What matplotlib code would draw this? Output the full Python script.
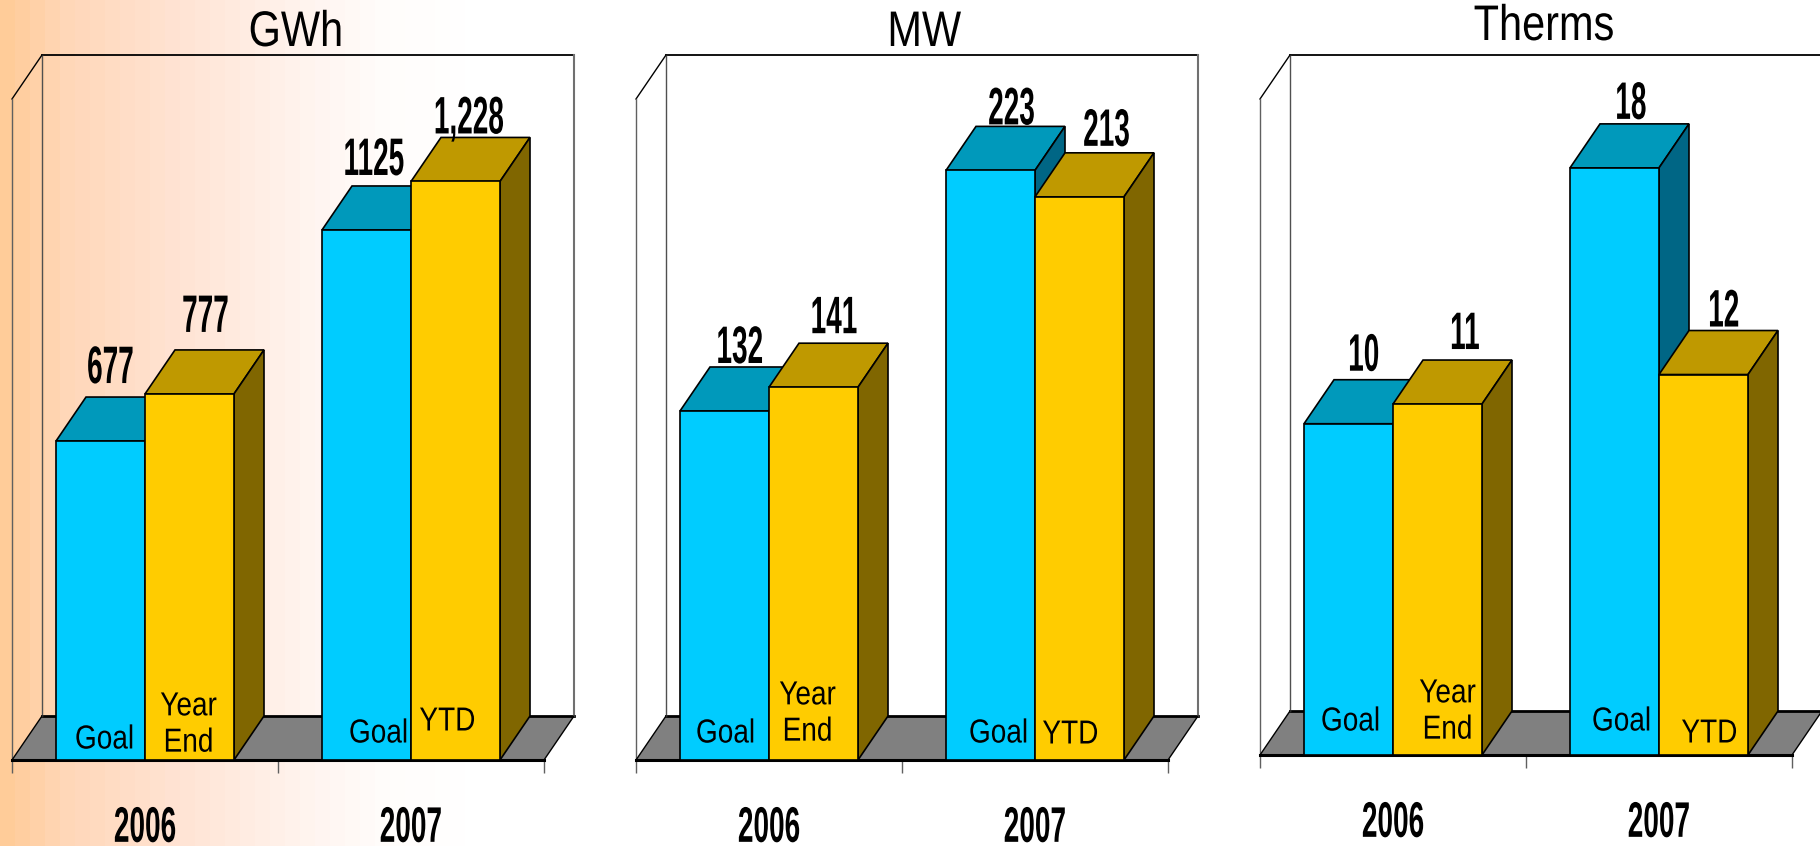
import matplotlib
matplotlib.use("Agg")
import matplotlib.pyplot as plt
import numpy as np
from matplotlib.colors import LinearSegmentedColormap
from matplotlib.patches import Polygon
from matplotlib.patheffects import AbstractPathEffect
from matplotlib.transforms import Affine2D

plt.rcParams['font.family'] = ['Liberation Sans', 'DejaVu Sans']

# 1. Data
titles = ["GWh", "MW", "Therms"]
years = ["2006", "2007"]
gwh_goal = [677, 1125]
gwh_actual = [777, 1228]
mw_goal = [132, 223]
mw_actual = [141, 213]
therms_goal = [10.1, 17.9]
therms_actual = [10.7, 11.6]
gwh_labels = ["677", "777", "1125", "1,228"]
mw_labels = ["132", "141", "223", "213"]
therms_labels = ["10", "11", "18", "12"]
bar_names = ["Goal", "Year\nEnd", "Goal", "YTD"]
y_limits = [1403, 250, 20]

# 2. Layout, in pixels of the 1820x846 picture
W, H = 1820, 846
DEPTH_X, DEPTH_Y = 30, 44
frames = [(12, 544, 760, 661), (636, 1168, 760, 661), (1260, 1792, 755, 656)]
value_nudge = [
    [(10, 72), (16, 76), (7, 69), (13, 62)],
    [(15, 62), (20, 68), (21, 60), (27, 65)],
    [(15, 67), (27, 69), (16, 63), (20, 62)],
]
name_nudge = [
    [(4, 20), (-1, 35), (12, 26), (-8, 38)],
    [(1, 26), (-6, 46), (8, 26), (-9, 25)],
    [(2, 33), (10, 43), (7, 33), (6, 21)],
]
title_pos = [(296, 33), (924, 33), (1544, 27)]

BLUE, BLUE_TOP, BLUE_SIDE = '#00CCFF', '#0099BB', '#006685'
GOLD, GOLD_TOP, GOLD_SIDE = '#FFCC00', '#BF9900', '#806600'


class Squeeze(AbstractPathEffect):
    # the source picture was stretched, so the lettering is much narrower than any installed font
    def __init__(self, sx):
        super().__init__()
        self.sx = sx

    def draw_path(self, renderer, gc, tpath, affine, rgbFace=None):
        ext = tpath.get_extents()
        cx = (ext.x0 + ext.x1) / 2
        squeeze = Affine2D().translate(-cx, 0).scale(self.sx, 1).translate(cx, 0)
        renderer.draw_path(gc, tpath, squeeze + affine, rgbFace)


fig = plt.figure(figsize=(W / 100, H / 100), dpi=100, facecolor='white')

# Orange fade on the left
bg = fig.add_axes([0, 0, 1, 1], zorder=-1)
fade = LinearSegmentedColormap.from_list(
    'fade', [(0, '#FFCC99'), (0.125, '#FFD7B8'), (0.36, '#FFE3D3'), (0.66, '#FFF5F0'),
             (0.82, '#FFFDFB'), (1, '#FFFFFF')])
bg.imshow(np.linspace(0, 1, 32).reshape(1, -1), cmap=fade, aspect='auto',
          extent=(0, 480, 0, 1), interpolation='nearest')
bg.set_xlim(0, W)
bg.set_ylim(0, 1)
bg.axis('off')


def box_3d(ax, x0, x1, value, ddx, ddy, top, side, z):
    # top and side faces of a bar; the front is a normal ax.bar
    ax.add_patch(Polygon([(x0, value), (x1, value), (x1 + ddx, value + ddy), (x0 + ddx, value + ddy)],
                         fc=top, ec='black', lw=1.2, zorder=z, clip_on=False))
    ax.add_patch(Polygon([(x1, 0), (x1, value), (x1 + ddx, value + ddy), (x1 + ddx, ddy)],
                         fc=side, ec='black', lw=1.2, zorder=z, clip_on=False))


panels = [(gwh_goal, gwh_actual, gwh_labels), (mw_goal, mw_actual, mw_labels),
          (therms_goal, therms_actual, therms_labels)]

for i, (goal, actual, labels) in enumerate(panels):
    left, right, bottom, front_h = frames[i]
    ymax = y_limits[i]
    ax = fig.add_axes([left / W, 1 - bottom / H, (right - left) / W, front_h / H])
    ax.patch.set_visible(False)
    ax.set_xlim(0, 2)
    ax.set_ylim(0, ymax)
    for s in ax.spines.values():
        s.set_visible(False)
    ax.set_yticks([])

    px_per_x = (right - left) / 2
    ddx = DEPTH_X / px_per_x
    ddy = DEPTH_Y / front_h * ymax
    bw = 89 / px_per_x

    # walls and floor
    ax.add_patch(Polygon([(0, 0), (2, 0), (2 + ddx, ddy), (ddx, ddy)], fc='#808080', ec='none', zorder=1, clip_on=False))
    ax.plot([ddx, 2 + ddx], [ymax + ddy] * 2, color='black', lw=1.3, zorder=2, clip_on=False)
    ax.plot([ddx, 2 + ddx], [ddy, ddy], color='black', lw=2, zorder=2, clip_on=False)
    ax.plot([2 + ddx, 2 + ddx], [ddy, ymax + ddy], color='#707070', lw=1.5, zorder=2, clip_on=False)
    ax.plot([ddx, ddx], [ddy, ymax + ddy], color='#505050', lw=1, zorder=2, clip_on=False)
    ax.plot([0, ddx], [ymax, ymax + ddy], color='black', lw=1, zorder=2, clip_on=False)
    ax.plot([0, 0], [0, ymax], color='#606060', lw=1, zorder=2, clip_on=False)
    ax.plot([2, 2 + ddx], [0, ddy], color='black', lw=1, zorder=2, clip_on=False)
    ax.plot([0, ddx], [0, ddy], color='black', lw=1, zorder=2, clip_on=False)
    ax.plot([0, 2], [0, 0], color='black', lw=2.2, zorder=3, clip_on=False)

    centers = np.array([0.5, 1.5])
    for j in range(2):
        c = centers[j]
        box_3d(ax, c - bw, c, goal[j], ddx, ddy, BLUE_TOP, BLUE_SIDE, 4 + j * 4)
        ax.bar(c - bw / 2, goal[j], bw, color=BLUE, edgecolor='black', lw=1.2, zorder=5 + j * 4, clip_on=False)
        box_3d(ax, c, c + bw, actual[j], ddx, ddy, GOLD_TOP, GOLD_SIDE, 6 + j * 4)
        ax.bar(c + bw / 2, actual[j], bw, color=GOLD, edgecolor='black', lw=1.2, zorder=7 + j * 4, clip_on=False)

    # year ticks: major ticks are the separators, minor ones carry the labels
    ax.set_xticks([0, 1, 2])
    ax.set_xticklabels([])
    ax.tick_params(axis='x', which='major', length=9, width=1, color='#606060')
    ax.set_xticks(centers, labels=years, minor=True)
    ax.tick_params(axis='x', which='minor', length=0, pad=33)
    for t in ax.get_xticklabels(minor=True):
        t.set_fontsize(36)
        t.set_fontweight('bold')
        t.set_path_effects([Squeeze(0.56)])

    # value labels above the bars, bar names at the foot of the bars
    xs = [centers[0] - bw / 2, centers[0] + bw / 2, centers[1] - bw / 2, centers[1] + bw / 2]
    vals = [goal[0], actual[0], goal[1], actual[1]]
    for k in range(4):
        t = ax.annotate(labels[k], xy=(xs[k], vals[k]), xytext=value_nudge[i][k], textcoords='offset pixels',
                        ha='center', va='center', fontsize=38, fontweight='bold', zorder=20, annotation_clip=False)
        t.set_path_effects([Squeeze(0.53)])
        t = ax.annotate(bar_names[k], xy=(xs[k], 0), xytext=name_nudge[i][k], textcoords='offset pixels',
                        ha='center', va='center', fontsize=24, zorder=20, linespacing=1.22, annotation_clip=False)
        t.set_path_effects([Squeeze(0.84)])

    t = fig.text(title_pos[i][0] / W, 1 - title_pos[i][1] / H, titles[i], ha='center', va='center', fontsize=36)
    t.set_path_effects([Squeeze(0.83)])

fig.savefig('out.png', dpi=100)
